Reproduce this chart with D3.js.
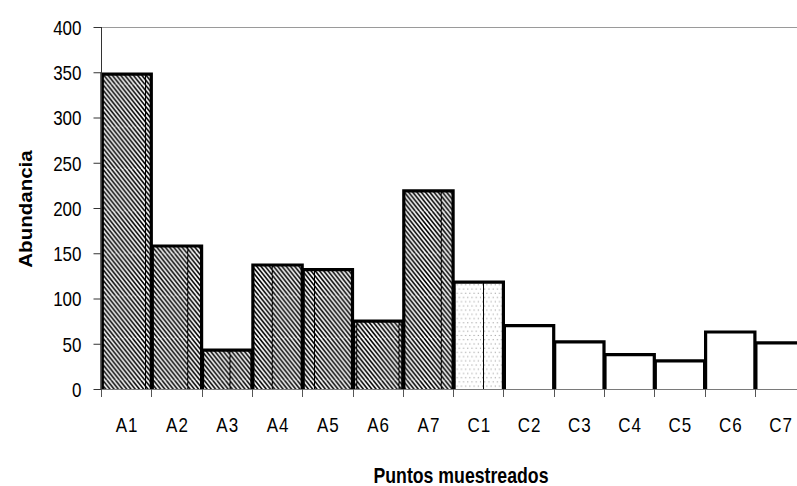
<!DOCTYPE html>
<html>
<head>
<meta charset="utf-8">
<script src="https://cdn.jsdelivr.net/npm/d3@7/dist/d3.min.js"></script>
<style>
  html, body { margin: 0; padding: 0; background: #fff; }
  svg { display: block; font-family: "Liberation Sans", Arial, sans-serif; }
</style>
</head>
<body>
<svg id="chart" width="797" height="486"></svg>
<script>
// Sampling points and abundance counts
const categories = ["A1", "A2", "A3", "A4", "A5", "A6", "A7", "C1", "C2", "C3", "C4", "C5", "C6", "C7"];
const abundance  = [348, 158, 43, 137, 132, 75, 219, 118, 70, 52, 38, 31, 63, 51];
// Fill style for each point: hatched, dotted or plain
const fillKind   = ["hatch", "hatch", "hatch", "hatch", "hatch", "hatch", "hatch", "dots", "none", "none", "none", "none", "none", "none"];
const yTicks     = [0, 50, 100, 150, 200, 250, 300, 350, 400];

const svg = d3.select("#chart");
const plotLeft = 101, plotTop = 27, plotBottom = 389, band = 50.3;
const tall = 1.2; // glyphs are drawn taller than wide

const x = d3.scaleBand().domain(categories).range([plotLeft, plotLeft + band * categories.length]).padding(0);
const y = d3.scaleLinear().domain([0, 400]).range([plotBottom, plotTop]);

// Fill patterns share one tile grid so their seams line up across bars
const tile = 42.25, step = tile / 10;
const defs = svg.append("defs");

const hatch = defs.append("pattern")
  .attr("id", "hatch").attr("patternUnits", "userSpaceOnUse")
  .attr("x", 18.25).attr("y", 0).attr("width", tile).attr("height", tile);
hatch.append("rect").attr("width", tile).attr("height", tile).attr("fill", "#fff");
const shift = step * 8;
let hp = "";
for (let a = -shift - step * 2; a <= tile + step; a += step) {
  hp += `M${a},${-0.01}L${a + shift},${tile + 0.01}`;
}
hatch.append("path").attr("d", hp).attr("stroke", "#000").attr("stroke-width", 1.6);
hatch.append("line").attr("x1", 0.5).attr("x2", 0.5).attr("y1", 0).attr("y2", tile)
  .attr("stroke", "#000").attr("stroke-width", 1);

const dots = defs.append("pattern")
  .attr("id", "dots").attr("patternUnits", "userSpaceOnUse")
  .attr("x", 18.25).attr("y", 0).attr("width", tile).attr("height", tile);
dots.append("rect").attr("width", tile).attr("height", tile).attr("fill", "#fff");
const dstep = tile / 10;
for (let r = 0; r < 10; r++) {
  for (let c = 0; c < 10; c++) {
    dots.append("rect")
      .attr("x", c * dstep + (r % 2 ? dstep / 2 : 0) + 1.2)
      .attr("y", r * dstep + 1.2)
      .attr("width", 1).attr("height", 1)
      .attr("fill", "#8a8a8a");
  }
}
dots.append("line").attr("x1", 0.5).attr("x2", 0.5).attr("y1", 0).attr("y2", tile)
  .attr("stroke", "#000").attr("stroke-width", 1);

const fills = { hatch: "url(#hatch)", dots: "url(#dots)", none: "#fff" };
const data = categories.map((c, i) => ({ c, v: abundance[i], k: fillKind[i] }));

// Top border of the plot area
svg.append("line")
  .attr("x1", plotLeft).attr("x2", x.range()[1]).attr("y1", y(400) + 0.5).attr("y2", y(400) + 0.5)
  .attr("stroke", "#9a9a9a").attr("stroke-width", 1);

// Bar fills
svg.append("g").selectAll("rect").data(data).join("rect")
  .attr("x", d => x(d.c)).attr("y", d => y(d.v))
  .attr("width", x.bandwidth()).attr("height", d => y(0) - y(d.v))
  .attr("fill", d => fills[d.k]);

// X axis baseline and boundary ticks
const xAxis = svg.append("g");
xAxis.append("line")
  .attr("x1", plotLeft).attr("x2", x.range()[1]).attr("y1", plotBottom + 0.5).attr("y2", plotBottom + 0.5)
  .attr("stroke", "#7a7a7a").attr("stroke-width", 1.2);
const bounds = categories.map(c => x(c)).concat([x.range()[1]]);
xAxis.selectAll("line.tk").data(bounds).join("line").attr("class", "tk")
  .attr("x1", d => Math.round(d) + 0.5).attr("x2", d => Math.round(d) + 0.5)
  .attr("y1", plotBottom).attr("y2", plotBottom + 8)
  .attr("stroke", "#555").attr("stroke-width", 1);
xAxis.selectAll("text").data(categories).join("text")
  .attr("transform", d => `translate(${x(d) + x.bandwidth() / 2 + 1},432) scale(1,${tall})`)
  .attr("text-anchor", "middle").attr("font-size", 17).attr("fill", "#000")
  .attr("letter-spacing", 1)
  .text(d => d);

// Bar outlines: left, top and right edges
svg.append("g").selectAll("path").data(data).join("path")
  .attr("d", d => {
    const x0 = x(d.c) + 1, x1 = x(d.c) + x.bandwidth(), yt = y(d.v);
    return `M${x0},${plotBottom}L${x0},${yt}L${x1},${yt}L${x1},${plotBottom}`;
  })
  .attr("fill", "none").attr("stroke", "#000").attr("stroke-width", 3.2)
  .attr("stroke-linejoin", "miter");

// Y axis
const yAxis = svg.append("g").attr("transform", `translate(${plotLeft + 0.5},0)`)
  .call(d3.axisLeft(y).tickValues(yTicks).tickSize(8).tickPadding(11).tickFormat(d3.format("d")));
yAxis.select(".domain").attr("stroke", "#333").attr("d", `M0,${plotTop}V${plotBottom}`);
yAxis.selectAll(".tick line").attr("stroke", "#333");
yAxis.selectAll(".tick text")
  .attr("x", null).attr("dy", null)
  .attr("transform", `translate(-20,${0.36 * 17 * tall}) scale(1,${tall})`)
  .attr("font-size", 17).attr("fill", "#000")
  .attr("font-family", "'Liberation Sans', Arial, sans-serif");

// Axis titles
svg.append("text")
  .attr("transform", `translate(32,209) rotate(-90) scale(1.08,1)`)
  .attr("text-anchor", "middle").attr("font-size", 19).attr("font-weight", "bold").attr("fill", "#000")
  .text("Abundancia");
svg.append("text")
  .attr("transform", `translate(461,483) scale(1,${tall})`)
  .attr("text-anchor", "middle").attr("font-size", 17.7).attr("font-weight", "bold").attr("fill", "#000")
  .text("Puntos muestreados");
</script>
</body>
</html>
